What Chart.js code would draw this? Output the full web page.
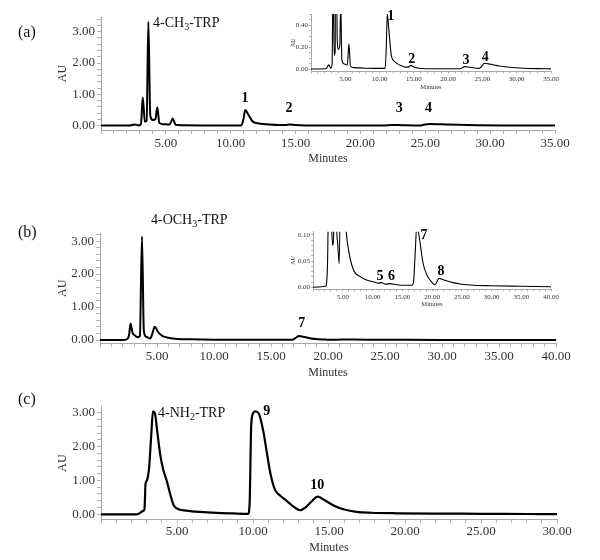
<!DOCTYPE html>
<html><head><meta charset="utf-8">
<script src="https://cdn.jsdelivr.net/npm/chart.js@4.4.1/dist/chart.umd.min.js"></script>
<style>
html,body{margin:0;padding:0;background:#fff;}
#wrap{position:relative;width:600px;height:560px;overflow:hidden;font-family:'Liberation Serif','Times New Roman',serif;color:#111;}
canvas{position:absolute;}
.lbl{position:absolute;white-space:nowrap;line-height:1;}
.lbl sub{font-size:10px;line-height:0;vertical-align:-3px;}
</style></head><body>
<div id="wrap">
<canvas id="cA" width="600" height="175" style="left:0;top:0"></canvas>
<canvas id="cB" width="600" height="195" style="left:0;top:190px"></canvas>
<canvas id="cC" width="600" height="180" style="left:0;top:380px"></canvas>
<canvas id="cAi" width="330" height="100" style="left:270px;top:0"></canvas>
<canvas id="cBi" width="330" height="100" style="left:270px;top:220px"></canvas>
<div class="lbl" style="left:18px;top:23.7px;font-size:16px">(a)</div>
<div class="lbl" style="left:18px;top:224.4px;font-size:16px">(b)</div>
<div class="lbl" style="left:18px;top:391.4px;font-size:16px">(c)</div>
<div class="lbl" style="left:153px;top:16.2px;font-size:14px">4-CH<sub>3</sub>-TRP</div>
<div class="lbl" style="left:151px;top:212.9px;font-size:14px">4-OCH<sub>3</sub>-TRP</div>
<div class="lbl" style="left:158px;top:406.2px;font-size:14px">4-NH<sub>2</sub>-TRP</div>
</div>
<script>
// ---- Chromatogram (a): 4-CH3-TRP ----
const timeA = [0, 2.2, 2.6, 2.9, 3.08, 3.22, 3.38, 3.52, 3.65, 3.8, 4.0, 4.2, 4.34, 4.5, 4.8, 5.3, 5.53, 5.75, 6.2, 8.0, 10.8, 10.98, 11.12, 11.35, 11.7, 12.2, 12.9, 13.7, 14.2, 14.55, 15.0, 15.8, 18.0, 21.8, 22.4, 23.2, 24.5, 24.8, 25.3, 26.2, 27.5, 29.0, 31.0, 33.0, 35.0];
const auA   = [0.003, 0.005, 0.04, 0.01, 0.05, 0.90, 0.13, 0.16, 3.32, 0.32, 0.18, 0.22, 0.59, 0.09, 0.05, 0.04, 0.23, 0.03, 0.015, 0.01, 0.008, 0.2, 0.50, 0.36, 0.13, 0.07, 0.04, 0.02, 0.02, 0.035, 0.02, 0.01, 0.005, 0.005, 0.024, 0.018, 0.008, 0.02, 0.055, 0.045, 0.03, 0.018, 0.01, 0.006, 0.004];
// ---- Chromatogram (b): 4-OCH3-TRP ----
const timeB = [0, 2.1, 2.4, 2.55, 2.68, 2.85, 3.05, 3.3, 3.5, 3.68, 3.85, 4.1, 4.4, 4.6, 4.8, 5.1, 5.5, 6.0, 6.8, 8.0, 9.0, 10.3, 11.0, 11.5, 12.2, 13.0, 14.0, 15.5, 16.6, 16.9, 17.15, 17.45, 17.8, 18.5, 19.2, 19.8, 20.5, 21.2, 22.0, 23.5, 25.0, 27.0, 30.0, 35.0, 40.0];
const auB   = [0, 0.002, 0.03, 0.15, 0.5, 0.22, 0.14, 0.08, 0.12, 3.14, 0.25, 0.09, 0.045, 0.2, 0.40, 0.24, 0.12, 0.07, 0.033, 0.02, 0.014, 0.01, 0.008, 0.009, 0.006, 0.007, 0.005, 0.004, 0.004, 0.01, 0.06, 0.118, 0.1, 0.046, 0.022, 0.012, 0.005, 0.017, 0.014, 0.009, 0.006, 0.004, 0.003, 0.002, 0.001];
// ---- Chromatogram (c): 4-NH2-TRP ----
const timeC = [0, 2.35, 2.78, 2.86, 2.93, 3.0, 3.16, 3.3, 3.42, 3.55, 3.7, 3.9, 4.1, 4.32, 4.55, 4.78, 5.1, 5.6, 6.5, 7.6, 8.7, 9.68, 9.78, 9.88, 10.0, 10.15, 10.38, 10.68, 10.92, 11.15, 11.45, 11.8, 12.15, 12.6, 13.1, 13.5, 13.9, 14.25, 14.7, 15.3, 16.0, 16.8, 17.8, 19.5, 22.0, 25.0, 28.0, 30.0];
const auC   = [0, 0, 0.1, 0.15, 0.9, 0.98, 1.36, 2.3, 3.04, 2.98, 2.45, 1.75, 1.31, 1.0, 0.6, 0.27, 0.15, 0.11, 0.07, 0.04, 0.025, 0.015, 0.35, 2.6, 2.98, 3.04, 2.98, 2.45, 1.8, 1.2, 0.72, 0.55, 0.42, 0.25, 0.12, 0.22, 0.4, 0.52, 0.42, 0.26, 0.14, 0.07, 0.045, 0.03, 0.02, 0.015, 0.008, 0.004];

// ---- Peak labels (data units: minutes, AU at label centre) ----
const peaksA = ['1', '2', '3', '4'];
const peakTimeA = [11.1, 14.5, 23.0, 25.24];
const peakAuA = [0.88, 0.555, 0.555, 0.555];
const peaksAi = ['1', '2', '3', '4'];
const peakTimeAi = [11.62, 14.69, 22.6, 25.4];
const peakAuAi = [0.475, 0.09, 0.084, 0.108];
const peaksB = ['7'];
const peakTimeB = [17.7];
const peakAuB = [0.51];
const peaksBi = ['5', '6', '7', '8'];
const peakTimeBi = [11.26, 13.2, 18.66, 21.5];
const peakAuBi = [0.0203, 0.0203, 0.1, 0.0298];
const peaksC = ['9', '10'];
const peakTimeC = [10.9, 14.23];
const peakAuC = [3.05, 0.865];

const FONT = "'Liberation Serif','Times New Roman',serif";
function pts(t, v) { return t.map((x, i) => ({ x: x, y: v[i] })); }
function near(v, s) { return Math.abs(v / s - Math.round(v / s)) < 1e-6; }
function stepTicks(min, max, step) {
  const out = [];
  for (let k = Math.ceil(min / step - 1e-9); k * step <= max + 1e-9; k++) {
    out.push({ value: Math.round(k * step * 1e6) / 1e6 });
  }
  return out;
}

function labelPlugin(names, times, aus, size) {
  return {
    id: 'peakLabels',
    afterDatasetsDraw(chart) {
      const ctx = chart.ctx, xs = chart.scales.x, ys = chart.scales.y;
      ctx.save();
      ctx.font = 'bold ' + size + 'px ' + FONT;
      ctx.fillStyle = '#000';
      ctx.textAlign = 'center';
      ctx.textBaseline = 'middle';
      names.forEach((n, i) => ctx.fillText(n, xs.getPixelForValue(times[i]), ys.getPixelForValue(aus[i])));
      ctx.restore();
    }
  };
}

function makeChart(id, c) {
  new Chart(document.getElementById(id), {
    type: 'line',
    data: { datasets: [{ data: pts(c.t, c.v), borderColor: '#000', borderWidth: c.lw, pointRadius: 0, fill: false, cubicInterpolationMode: 'monotone' }] },
    options: {
      responsive: false, animation: false, events: [],
      layout: { padding: c.pad },
      plugins: { legend: { display: false }, tooltip: { enabled: false } },
      scales: {
        x: {
          type: 'linear', bounds: 'data', min: 0, max: c.xmax,
          grid: { drawOnChartArea: false, drawTicks: true, tickLength: c.tl, tickColor: '#b4b4b4' },
          border: { display: true, color: '#a8a8a8', width: 1 },
          ticks: { autoSkip: false, maxRotation: 0, minRotation: 0, padding: c.xtp, color: '#333',
            font: { family: FONT, size: c.tickSize },
            callback: (v) => (v > 0 && near(v, 5)) ? v.toFixed(2) : '' },
          afterBuildTicks: (s) => { s.ticks = stepTicks(0, c.xmax, 1); },
          title: { display: true, text: 'Minutes', color: '#333', font: { family: FONT, size: c.titleSize }, padding: { top: 0, bottom: 0 } },
          afterFit: (s) => { s.height = c.xh; }
        },
        y: {
          type: 'linear', bounds: 'data', min: c.ymin, max: c.ymax,
          grid: { drawOnChartArea: false, drawTicks: true, tickLength: c.tl, tickColor: '#b4b4b4' },
          border: { display: true, color: '#a8a8a8', width: 1 },
          ticks: { autoSkip: false, padding: c.ytp, color: '#333',
            font: { family: FONT, size: c.tickSize },
            callback: (v) => near(v, c.ylab) ? v.toFixed(2) : '' },
          afterBuildTicks: (s) => { s.ticks = stepTicks(c.ymin, c.ymax, c.ystep); },
          title: { display: true, text: 'AU', color: '#333', font: { family: FONT, size: c.ytitleSize || c.titleSize }, padding: { top: c.ytitlePad, bottom: 0 } },
          afterFit: (s) => { s.width = c.yw; }
        }
      }
    },
    plugins: [labelPlugin(c.names, c.times, c.aus, c.labelSize)]
  });
}

// main panels
makeChart('cA', { t: timeA, v: auA, xmax: 35, ymin: -0.137, ymax: 3.47, ystep: 0.2, ylab: 1, lw: 2,
  pad: { left: 50, right: 45, top: 17, bottom: 8.8 }, yw: 51, xh: 36.2, tl: 4, xtp: 2.2, ytp: 2,
  tickSize: 13, titleSize: 12, ytitlePad: 5.8, names: peaksA, times: peakTimeA, aus: peakAuA, labelSize: 14 });
makeChart('cB', { t: timeB, v: auB, xmax: 40, ymin: -0.1, ymax: 3.236, ystep: 0.2, ylab: 1, lw: 2,
  pad: { left: 50, right: 44, top: 43.3, bottom: 5.1 }, yw: 50, xh: 36.6, tl: 4, xtp: 1.6, ytp: 2,
  tickSize: 13, titleSize: 12, ytitlePad: 5.8, names: peaksB, times: peakTimeB, aus: peakAuB, labelSize: 14 });
makeChart('cC', { t: timeC, v: auC, xmax: 30, ymin: -0.148, ymax: 3.18, ystep: 0.2, ylab: 1, lw: 2.2,
  pad: { left: 50, right: 43, top: 26.7, bottom: 5.1 }, yw: 51, xh: 35.6, tl: 4, xtp: 0.6, ytp: 2,
  tickSize: 13, titleSize: 12, ytitlePad: 5.8, names: peaksC, times: peakTimeC, aus: peakAuC, labelSize: 14 });
// insets
makeChart('cAi', { t: timeA, v: auA, xmax: 35, ymin: -0.02, ymax: 0.5, ystep: 0.05, ylab: 0.2, lw: 1.1,
  pad: { left: 15, right: 49, top: 14, bottom: 8.8 }, yw: 26, xh: 19.7, tl: 2, xtp: 1.3, ytp: 1,
  tickSize: 7, titleSize: 6.5, ytitleSize: 6, ytitlePad: 4.4, names: peaksAi, times: peakTimeAi, aus: peakAuAi, labelSize: 14 });
makeChart('cBi', { t: timeB, v: auB, xmax: 40, ymin: -0.0038, ymax: 0.1063, ystep: 0.01, ylab: 0.05, lw: 1.1,
  pad: { left: 15, right: 49, top: 11.7, bottom: 11.8 }, yw: 28, xh: 18.9, tl: 2, xtp: 1.2, ytp: 1,
  tickSize: 7, titleSize: 6.5, ytitleSize: 6, ytitlePad: 4.4, names: peaksBi, times: peakTimeBi, aus: peakAuBi, labelSize: 14 });
</script>
</body></html>
